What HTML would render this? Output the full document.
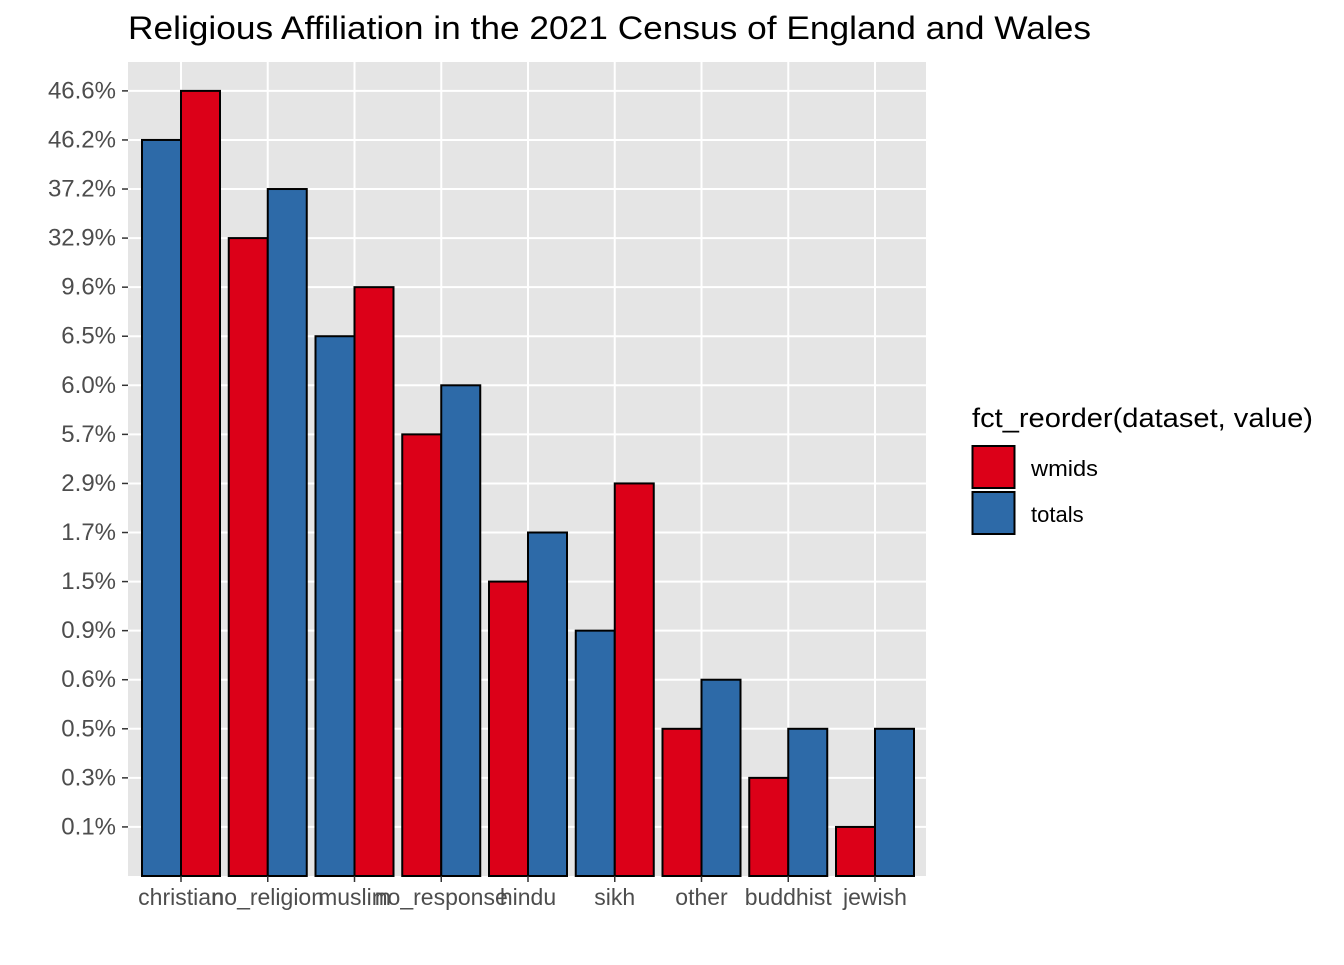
<!DOCTYPE html>
<html><head><meta charset="utf-8"><style>
body{margin:0;background:#fff;}
svg{font-family:"Liberation Sans",Arial,sans-serif;}
</style></head><body>
<svg id="chart" width="1344" height="960">
<text x="128" y="39" font-size="32" fill="#000" textLength="963" lengthAdjust="spacingAndGlyphs">Religious Affiliation in the 2021 Census of England and Wales</text>
<rect x="128" y="62" width="798" height="814" fill="#E5E5E5"/>
<g id="grid"></g><g id="bars"></g><g id="yaxis"></g><g id="xaxis"></g>
<g>
<text x="972" y="427" font-size="27" fill="#000" textLength="341" lengthAdjust="spacingAndGlyphs">fct_reorder(dataset, value)</text>
<rect x="972.5" y="446" width="42" height="42" fill="#DC0018" stroke="#000" stroke-width="2"/>
<text x="1031" y="476" font-size="22" fill="#000" textLength="67" lengthAdjust="spacingAndGlyphs">wmids</text>
<rect x="972.5" y="492" width="42" height="42" fill="#2D6AA8" stroke="#000" stroke-width="2"/>
<text x="1031" y="522" font-size="22" fill="#000">totals</text>
</g>
</svg>
<script>
const categories=["christian","no_religion","muslim","no_response","hindu","sikh","other","buddhist","jewish"];
const wmids=["46.6%","32.9%","9.6%","5.7%","1.5%","2.9%","0.5%","0.3%","0.1%"];
const totals=["46.2%","37.2%","6.5%","6.0%","1.7%","0.9%","0.6%","0.5%","0.5%"];
const yLevels=["0.1%","0.3%","0.5%","0.6%","0.9%","1.5%","1.7%","2.9%","5.7%","6.0%","6.5%","9.6%","32.9%","37.2%","46.2%","46.6%"];
const NS="http://www.w3.org/2000/svg";
const y0=876,step=49.07;
const yPos=l=>y0-(yLevels.indexOf(l)+1)*step;
const xC=i=>181+i*86.75;
const bw=39;
function mk(tag,attrs,parent){const e=document.createElementNS(NS,tag);for(const k in attrs)e.setAttribute(k,attrs[k]);document.getElementById(parent).appendChild(e);return e;}
yLevels.forEach((l,i)=>{
 const y=yPos(l);
 const g=mk('line',{x1:128,x2:926,y1:y,y2:y,stroke:'#fff','stroke-width':2},'grid');
 
 
 const t=mk('text',{x:116,y:y+7.5,'font-size':'24','text-anchor':'end',fill:'#4D4D4D'},'yaxis');t.textContent=l;
 
 
 const tk=mk('line',{x1:122,x2:128,y1:y,y2:y,stroke:'#333','stroke-width':1.5},'yaxis');
 
 
});
categories.forEach((c,i)=>{
 const x=xC(i);
 const g=mk('line',{x1:x,x2:x,y1:62,y2:876,stroke:'#fff','stroke-width':2},'grid');
 
 
 const t=mk('text',{x:x,y:905,'font-size':'23','text-anchor':'middle',fill:'#4D4D4D'},'xaxis');t.textContent=c;
 
 
 const tk=mk('line',{x1:x,x2:x,y1:876,y2:882,stroke:'#333','stroke-width':1.5},'xaxis');
 
 
 const w=yLevels.indexOf(wmids[i]),tt=yLevels.indexOf(totals[i]);
 const items=[{v:wmids[i],k:w,col:'#DC0018',n:'wmids'},{v:totals[i],k:tt,col:'#2D6AA8',n:'totals'}];
 items.sort((a,b)=>a.k-b.k);
 items.forEach((it,j)=>{
  const yt=yPos(it.v);
  const r=mk('rect',{x:x-bw+j*bw,y:yt,width:bw,height:y0-yt,fill:it.col,stroke:'#000','stroke-width':2},'bars');
  
  
 });
});
</script>
</body></html>
